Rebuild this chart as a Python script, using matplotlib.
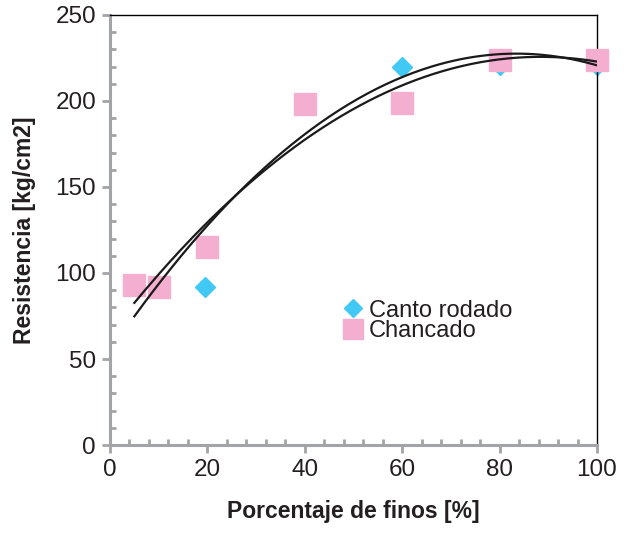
import numpy as np
import matplotlib.pyplot as plt
from matplotlib.ticker import MultipleLocator

plt.rcParams['font.family'] = ['Liberation Sans', 'DejaVu Sans']

# data
canto_x = [5, 10, 19.5, 40, 60, 80, 100]
canto_y = [93, 92, 92, 198, 220, 221, 221]
chanc_x = [5, 10, 20, 40, 60, 80, 100]
chanc_y = [93, 92, 115, 198, 199, 224, 224]

fig = plt.figure(figsize=(6.3, 5.35), dpi=100)
ax = fig.add_axes([0.1746, 0.1682, 0.773, 0.8038])

gray = "#a3a4a8"
cyan = "#41c8f4"
pink = "#f4aecf"
txt = "#231f20"

# quadratic trend lines
for xs, ys in [(canto_x, canto_y), (chanc_x, chanc_y)]:
    c = np.polyfit(xs, ys, 2)
    xx = np.linspace(min(xs), max(xs), 200)
    ax.plot(xx, np.polyval(c, xx), color="#1a1a1a", linewidth=1.6, zorder=4)

ax.plot(canto_x, canto_y, 'D', color=cyan, markersize=10.5, linestyle='none',
        label="Canto rodado", zorder=2, clip_on=False)
ax.plot(chanc_x, chanc_y, 's', color=pink, markersize=15.5, linestyle='none',
        label="Chancado", zorder=3, clip_on=False)

ax.set_xlim(0, 100)
ax.set_ylim(0, 250)
ax.xaxis.set_major_locator(MultipleLocator(20))
ax.xaxis.set_minor_locator(MultipleLocator(4))
ax.yaxis.set_major_locator(MultipleLocator(50))
ax.yaxis.set_minor_locator(MultipleLocator(10))

for side in ("left", "bottom"):
    ax.spines[side].set_color(gray)
    ax.spines[side].set_linewidth(2.2)
for side in ("top", "right"):
    ax.spines[side].set_color("black")
    ax.spines[side].set_linewidth(1.0)

ax.tick_params(which="major", direction="out", length=6, width=2, color=gray,
               labelsize=17.5, labelcolor=txt, pad=4)
ax.tick_params(which="minor", direction="in", length=4, width=2, color=gray)

ax.set_xlabel("Porcentaje de finos [%]", fontsize=16.5, fontweight="bold",
              color=txt, labelpad=14)
ax.set_ylabel("Resistencia [kg/cm2]", fontsize=16.5, fontweight="bold",
              color=txt, labelpad=14)

ax.legend(loc="upper left", bbox_to_anchor=(0.462, 0.36), frameon=False,
          fontsize=17, handlelength=0.75, handletextpad=0.3, labelspacing=-0.05,
          borderaxespad=0, labelcolor=txt, markerscale=0.9)

fig.savefig("out.png", dpi=100)
